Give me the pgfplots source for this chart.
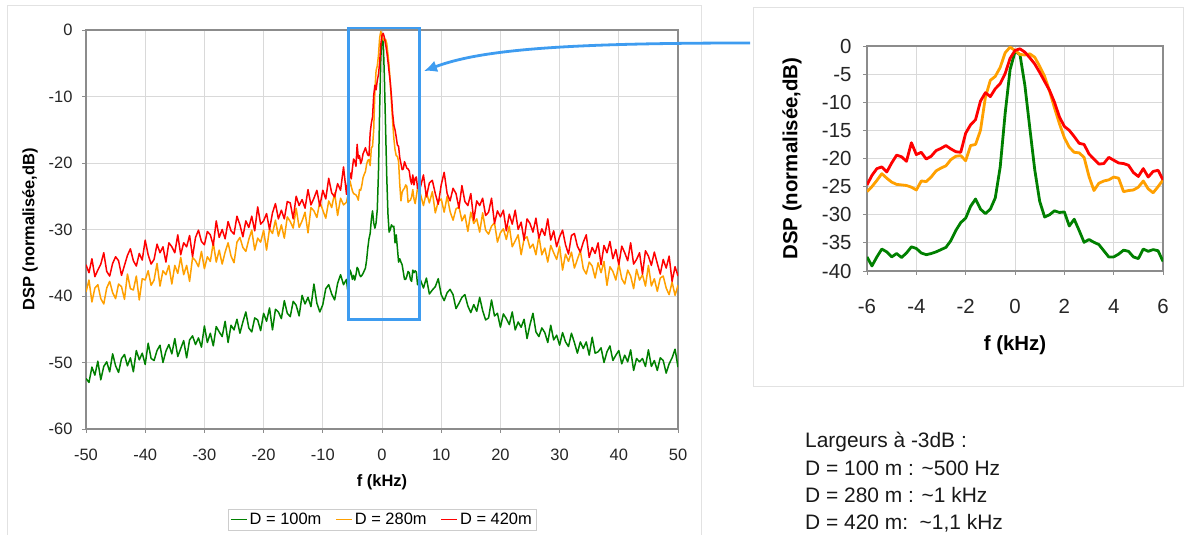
\documentclass[border=0pt]{standalone}
\usepackage{fontspec}
\setmainfont{Liberation Sans}
\usepackage{pgfplots}
\pgfplotsset{compat=1.18}
\usepackage{pgfplotstable}
\usetikzlibrary{arrows.meta}
\definecolor{cg}{RGB}{0,128,0}
\definecolor{co}{RGB}{255,160,0}
\definecolor{cr}{RGB}{255,0,0}
\definecolor{cblue}{RGB}{62,156,240}
\definecolor{gridgray}{RGB}{217,217,217}
\definecolor{axisgray}{RGB}{140,140,140}
\definecolor{framegray}{RGB}{226,226,226}
\definecolor{legendgray}{RGB}{205,205,205}

\pgfplotstableread{
x g o r
-50.0 -52.4 -39.4 -35.3
-49.5 -53.0 -37.6 -36.5
-49.0 -50.7 -40.9 -34.4
-48.5 -51.9 -38.8 -37.1
-48.0 -49.8 -38.3 -36.1
-47.5 -52.6 -40.4 -35.2
-47.0 -50.6 -41.2 -33.5
-46.5 -49.9 -38.8 -36.3
-46.0 -51.4 -37.8 -37.0
-45.5 -48.7 -39.5 -35.1
-45.0 -50.5 -40.4 -34.1
-44.5 -51.5 -38.2 -34.7
-44.0 -49.4 -38.6 -36.9
-43.5 -48.8 -40.5 -35.4
-43.0 -50.5 -36.7 -33.9
-42.5 -49.3 -38.9 -32.9
-42.0 -51.4 -39.1 -34.7
-41.5 -48.2 -37.0 -35.5
-41.0 -49.6 -40.6 -33.6
-40.5 -48.6 -37.4 -34.6
-40.0 -50.3 -37.6 -31.6
-39.5 -47.1 -36.2 -33.8
-39.0 -49.4 -38.4 -35.2
-38.5 -49.7 -37.6 -34.5
-38.0 -48.2 -35.1 -32.2
-37.5 -47.4 -38.5 -33.5
-37.0 -50.0 -36.2 -32.6
-36.5 -48.3 -36.8 -34.9
-36.0 -47.3 -35.4 -32.0
-35.5 -48.7 -38.2 -32.6
-35.0 -46.4 -35.4 -33.5
-34.5 -49.1 -36.6 -30.8
-34.0 -47.9 -34.2 -33.8
-33.5 -46.7 -36.8 -32.0
-33.0 -49.3 -35.4 -32.6
-32.5 -46.6 -37.8 -30.9
-32.0 -46.0 -34.2 -34.1
-31.5 -47.3 -34.7 -31.2
-31.0 -46.3 -35.6 -30.1
-30.5 -47.7 -33.3 -31.8
-30.0 -44.5 -35.9 -32.3
-29.5 -47.0 -34.1 -30.3
-29.0 -45.6 -34.8 -30.8
-28.5 -47.5 -32.0 -32.4
-28.0 -44.6 -34.9 -28.7
-27.5 -45.4 -33.1 -31.2
-27.0 -46.1 -35.2 -30.0
-26.5 -43.8 -33.4 -31.4
-26.0 -47.0 -32.0 -28.8
-25.5 -44.4 -34.0 -30.2
-25.0 -45.1 -35.0 -30.7
-24.5 -43.5 -31.9 -28.0
-24.0 -45.6 -31.2 -29.3
-23.5 -43.9 -32.7 -31.1
-23.0 -42.4 -33.3 -28.7
-22.5 -44.8 -31.5 -29.7
-22.0 -45.4 -30.1 -28.0
-21.5 -43.3 -33.1 -30.2
-21.0 -43.6 -31.3 -26.6
-20.5 -45.2 -31.9 -29.2
-20.0 -42.6 -30.1 -28.7
-19.5 -43.8 -33.1 -27.6
-19.0 -41.8 -29.9 -30.0
-18.5 -45.1 -30.6 -27.5
-18.0 -42.0 -28.6 -26.1
-17.5 -42.4 -31.0 -28.4
-17.0 -43.4 -29.3 -27.1
-16.5 -40.7 -31.3 -28.4
-16.0 -42.6 -28.1 -25.8
-15.5 -43.1 -28.8 -26.0
-15.0 -40.8 -29.8 -28.4
-14.5 -41.4 -26.8 -25.0
-14.0 -43.0 -29.7 -26.4
-13.5 -39.9 -28.7 -25.5
-13.0 -41.2 -27.4 -26.8
-12.5 -40.2 -30.5 -24.0
-12.0 -41.6 -26.7 -26.3
-11.5 -38.2 -27.2 -25.3
-11.0 -41.1 -28.2 -24.1
-10.5 -42.4 -25.8 -26.5
-10.0 -41.3 -27.1 -24.1
-9.5 -38.9 -28.3 -25.4
-9.0 -38.3 -25.7 -22.3
-8.5 -39.7 -26.7 -24.5
-8.0 -40.6 -24.5 -25.1
-7.5 -38.1 -27.9 -23.1
-7.0 -36.8 -25.3 -24.1
-6.5 -38.3 -26.3 -20.6
-6.0 -37.5 -25.9 -24.7
-5.8 -39.1 -25.0 -23.0
-5.6 -37.5 -23.9 -21.8
-5.4 -36.1 -22.7 -21.5
-5.2 -36.6 -23.5 -22.4
-5.0 -37.5 -24.2 -20.8
-4.8 -36.9 -24.6 -19.4
-4.6 -37.6 -24.7 -19.7
-4.4 -36.8 -24.8 -20.5
-4.2 -35.7 -25.1 -17.2
-4.0 -36.0 -25.6 -19.3
-3.8 -36.8 -24.0 -18.9
-3.6 -37.1 -24.1 -20.1
-3.4 -36.9 -23.3 -19.6
-3.2 -36.6 -22.2 -18.6
-3.0 -36.2 -21.7 -18.2
-2.8 -35.8 -21.3 -17.7
-2.6 -34.6 -20.2 -18.3
-2.4 -32.8 -19.6 -18.8
-2.2 -31.4 -19.5 -18.9
-2.0 -30.6 -20.4 -15.5
-1.8 -28.5 -17.7 -14.0
-1.6 -27.2 -17.5 -13.1
-1.4 -29.0 -15.0 -9.8
-1.2 -29.8 -9.1 -8.3
-1.0 -29.0 -6.1 -9.0
-0.8 -27.0 -5.4 -7.6
-0.6 -21.5 -3.8 -6.7
-0.4 -12.0 -1.2 -4.9
-0.2 -4.2 -0.2 -2.2
0.0 -1.0 -0.8 -0.8
0.2 -1.5 -1.5 -0.5
0.4 -7.0 -1.6 -1.1
0.6 -14.6 -1.4 -2.1
0.8 -22.0 -2.0 -3.2
1.0 -27.6 -3.6 -4.7
1.2 -30.4 -5.4 -6.3
1.4 -30.0 -8.0 -7.9
1.6 -29.3 -11.0 -10.0
1.8 -29.6 -13.8 -12.6
2.0 -29.5 -16.3 -14.3
2.2 -32.0 -18.0 -15.0
2.4 -30.8 -18.9 -16.1
2.6 -32.8 -19.0 -17.3
2.8 -34.9 -19.8 -17.5
3.0 -34.4 -23.2 -19.2
3.2 -34.9 -25.7 -20.1
3.4 -35.3 -24.4 -21.0
3.6 -36.4 -24.0 -20.9
3.8 -37.5 -23.8 -19.8
4.0 -37.5 -23.3 -20.3
4.2 -37.0 -23.5 -20.8
4.4 -36.3 -25.9 -20.9
4.6 -36.5 -25.7 -21.2
4.8 -37.5 -25.6 -22.5
5.0 -37.8 -25.1 -23.2
5.2 -36.1 -24.0 -21.8
5.4 -36.5 -25.4 -23.3
5.6 -36.2 -26.1 -22.3
5.8 -36.4 -25.0 -22.1
6.0 -38.3 -23.8 -23.8
6.5 -37.6 -24.7 -23.6
7.0 -38.8 -26.4 -21.8
7.5 -37.3 -24.4 -25.1
8.0 -39.7 -26.0 -23.0
8.5 -39.1 -24.3 -22.6
9.0 -38.6 -27.5 -24.6
9.5 -37.4 -25.8 -26.2
10.0 -39.8 -25.4 -23.3
10.5 -40.7 -27.4 -21.4
11.0 -39.5 -25.0 -24.6
11.5 -39.0 -27.3 -25.7
12.0 -39.8 -28.6 -23.8
12.5 -41.9 -26.9 -24.6
13.0 -41.1 -26.6 -26.8
13.5 -40.2 -28.7 -23.4
14.0 -39.8 -27.8 -25.8
14.5 -41.5 -30.3 -26.4
15.0 -42.5 -27.4 -24.6
15.5 -41.3 -29.1 -28.6
16.0 -42.3 -28.4 -25.7
16.5 -40.2 -30.4 -26.4
17.0 -42.2 -27.5 -25.3
17.5 -43.6 -30.1 -27.9
18.0 -43.3 -30.7 -27.4
18.5 -40.6 -29.5 -25.3
19.0 -43.0 -29.0 -29.1
19.5 -42.6 -31.9 -27.2
20.0 -44.7 -30.5 -28.1
20.5 -42.7 -29.9 -27.1
21.0 -43.4 -31.5 -30.2
21.5 -44.3 -29.5 -27.7
22.0 -42.4 -32.6 -29.2
22.5 -45.1 -31.7 -27.1
23.0 -43.9 -30.8 -30.0
23.5 -44.7 -33.8 -28.9
24.0 -43.5 -31.4 -31.6
24.5 -46.4 -31.1 -28.4
25.0 -44.3 -32.8 -29.1
25.5 -42.6 -32.2 -30.4
26.0 -45.4 -33.8 -28.3
26.5 -46.1 -31.0 -31.3
27.0 -44.8 -33.8 -29.9
27.5 -45.5 -32.8 -30.9
28.0 -47.0 -34.9 -28.4
28.5 -44.4 -32.4 -31.6
29.0 -46.6 -33.5 -30.2
29.5 -45.9 -34.5 -32.6
30.0 -47.4 -32.5 -31.1
30.5 -45.5 -36.1 -30.1
31.0 -46.9 -33.7 -32.3
31.5 -47.6 -34.8 -33.7
32.0 -45.6 -33.4 -30.9
32.5 -47.0 -35.8 -30.6
33.0 -48.6 -34.5 -32.5
33.5 -46.9 -33.2 -33.4
34.0 -47.9 -35.9 -31.9
34.5 -46.9 -36.7 -30.8
35.0 -48.9 -34.9 -34.2
35.5 -46.2 -35.5 -32.7
36.0 -48.6 -37.3 -33.6
36.5 -48.4 -35.0 -32.0
37.0 -47.8 -36.5 -35.3
37.5 -50.0 -34.8 -32.4
38.0 -48.4 -38.4 -33.5
38.5 -47.5 -35.6 -31.8
39.0 -49.7 -36.3 -34.4
39.5 -48.9 -37.6 -33.0
40.0 -48.2 -35.2 -35.3
40.5 -50.2 -37.4 -32.5
41.0 -48.9 -38.2 -33.5
41.5 -49.9 -36.1 -34.7
42.0 -48.1 -37.0 -32.0
42.5 -51.2 -38.9 -35.2
43.0 -49.4 -36.0 -34.5
43.5 -49.9 -37.6 -33.5
44.0 -49.4 -36.8 -36.7
44.5 -50.6 -38.5 -33.2
45.0 -48.1 -35.4 -34.0
45.5 -50.6 -38.5 -35.4
46.0 -49.7 -37.4 -33.4
46.5 -51.2 -39.3 -35.1
47.0 -49.3 -37.3 -36.7
47.5 -49.7 -37.0 -34.5
48.0 -51.6 -38.8 -35.8
48.5 -50.2 -39.8 -34.0
49.0 -49.3 -37.9 -37.8
49.5 -48.0 -39.9 -35.6
50.0 -50.7 -38.4 -37.0
}\dsp

\begin{document}
\begin{tikzpicture}[x=1bp,y=1bp]
\path[use as bounding box] (0,0) rectangle (1186,535);
\fill[white] (0,0) rectangle (1186,535);
\draw[framegray, line width=1bp] (7,-10) rectangle (701,529);
\draw[framegray, line width=1bp] (753,148) rectangle (1183,527);

\begin{axis}[
  at={(86bp,106bp)}, anchor=south west,
  width=592bp, height=399bp, scale only axis,
  xmin=-50, xmax=50, ymin=-60, ymax=0,
  xtick distance=10, ytick distance=10,
  grid=major, major grid style={gridgray, line width=0.9bp},
  axis line style={axisgray, line width=1.1bp},
  tick style={axisgray, line width=0.9bp}, tick align=outside, major tick length=4bp,
  xtick pos=bottom, ytick pos=left,
  /pgf/number format/assume math mode=true,
  tick label style={font=\fontsize{16.5}{19}\selectfont, text=black!85},
  xticklabel style={anchor=north, yshift=-13bp},
  yticklabel style={anchor=east, xshift=-6bp},
  xlabel={\textbf{f (kHz)}},
  xlabel style={at={(axis description cs:0.5,-0.1328)}, anchor=center, font=\fontsize{16.5}{19}\selectfont},
  ylabel={\textbf{DSP (normalisée,dB)}},
  ylabel style={at={(axis description cs:-0.0946,0.5)}, anchor=center, font=\fontsize{16.5}{19}\selectfont},
  legend style={at={(axis description cs:0.5,-0.227)}, anchor=center, draw=legendgray,
    font=\fontsize{16.5}{19}\selectfont, inner sep=2bp,
    /tikz/every even column/.append style={column sep=12bp}},
  legend columns=3,
  legend image code/.code={\draw[mark repeat=2,mark phase=2,#1] plot coordinates {(0bp,0bp) (8bp,0bp) (16bp,0bp)};},
  clip mode=individual,
]
\addplot[cg, line width=1.5bp, line join=round] table[x=x,y=g]{\dsp};
\addlegendentry{D = 100m}
\addplot[co, line width=1.5bp, line join=round] table[x=x,y=o]{\dsp};
\addlegendentry{D = 280m}
\addplot[cr, line width=1.5bp, line join=round] table[x=x,y=r]{\dsp};
\addlegendentry{D = 420m}
\draw[cblue, line width=2.8bp] (axis cs:-5.6,0.3) rectangle (axis cs:6.4,-43.5);
\end{axis}

\begin{axis}[
  at={(867bp,264bp)}, anchor=south west,
  width=296bp, height=225bp, scale only axis,
  xmin=-6, xmax=6, ymin=-40, ymax=0,
  xtick={-6,-4,...,6}, ytick={-40,-35,...,0},
  grid=major, major grid style={gridgray, line width=0.9bp},
  axis line style={axisgray, line width=1.3bp},
  tick style={axisgray, line width=0.9bp}, tick align=outside, major tick length=4bp,
  xtick pos=bottom, ytick pos=left,
  /pgf/number format/assume math mode=true,
  tick label style={font=\fontsize{20.5}{24}\selectfont, text=black!85},
  xticklabel style={anchor=north, yshift=-21bp},
  yticklabel style={anchor=east, xshift=-8bp},
  xlabel={\textbf{f (kHz)}},
  xlabel style={at={(axis description cs:0.5,-0.329)}, anchor=center, font=\fontsize{20.5}{24}\selectfont},
  ylabel={\textbf{DSP (normalisée,dB)}},
  ylabel style={at={(axis description cs:-0.253,0.5)}, anchor=center, font=\fontsize{20.5}{24}\selectfont},
  restrict x to domain=-6.01:6.01,
  clip mode=individual,
]
\addplot[cg, line width=2.8bp, line join=round] table[x=x,y=g]{\dsp};
\addplot[co, line width=2.8bp, line join=round] table[x=x,y=o]{\dsp};
\addplot[cr, line width=2.8bp, line join=round] table[x=x,y=r]{\dsp};
\end{axis}

\draw[cblue, line width=2.8bp, -{Latex[length=13bp,width=12bp]}]
  (750,492) .. controls (560,492) and (480,485) .. (424,464);

\begin{scope}[every node/.style={anchor=base west, inner sep=0pt, font=\fontsize{21}{26}\selectfont, text=black!90}]
\node at (805,87) {Largeurs à -3dB :};
\node at (805,59.5) {D = 100 m : \textasciitilde500 Hz};
\node at (805,32) {D = 280 m : \textasciitilde1 kHz};
\node at (805,5) {D = 420 m:\ \ \textasciitilde1,1 kHz};
\end{scope}
\end{tikzpicture}
\end{document}
